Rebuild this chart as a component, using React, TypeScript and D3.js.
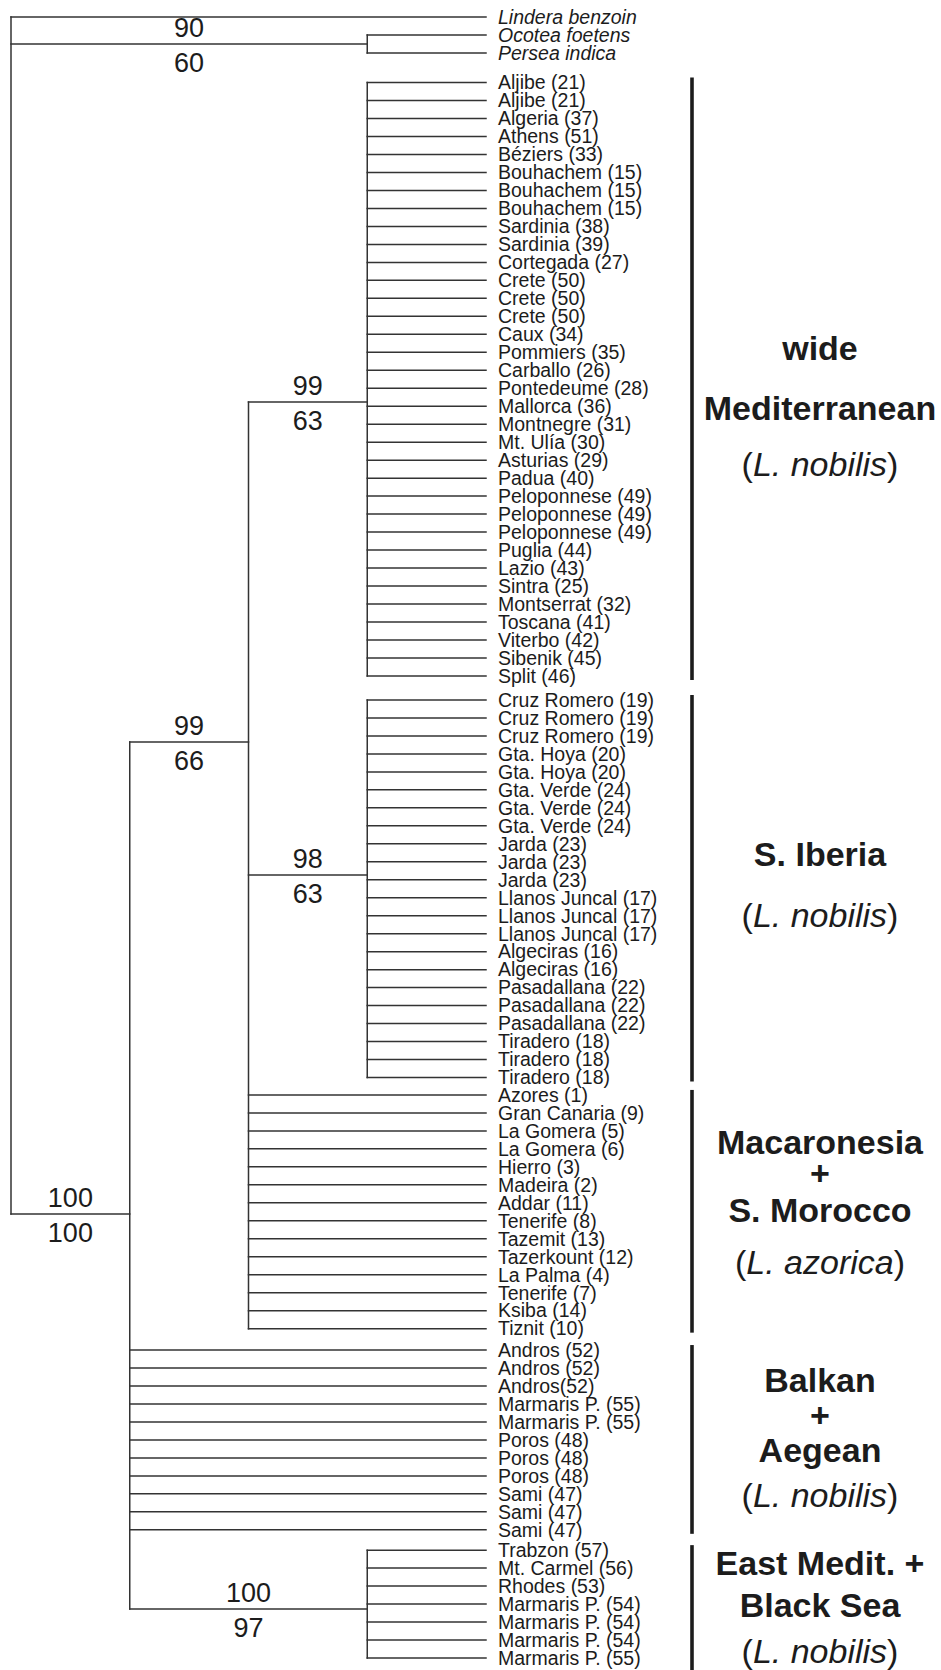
import * as d3 from "d3";

// leaf names, grouped as in the figure (top to bottom)
const outgroup = ["Lindera benzoin", "Ocotea foetens", "Persea indica"];
const wideMed = [
  "Aljibe (21)", "Aljibe (21)", "Algeria (37)", "Athens (51)", "Béziers (33)",
  "Bouhachem (15)", "Bouhachem (15)", "Bouhachem (15)", "Sardinia (38)", "Sardinia (39)",
  "Cortegada (27)", "Crete (50)", "Crete (50)", "Crete (50)", "Caux (34)", "Pommiers (35)",
  "Carballo (26)", "Pontedeume (28)", "Mallorca (36)", "Montnegre (31)", "Mt. Ulía (30)",
  "Asturias (29)", "Padua (40)", "Peloponnese (49)", "Peloponnese (49)", "Peloponnese (49)",
  "Puglia (44)", "Lazio (43)", "Sintra (25)", "Montserrat (32)", "Toscana (41)",
  "Viterbo (42)", "Sibenik (45)", "Split (46)",
];
const sIberia = [
  "Cruz Romero (19)", "Cruz Romero (19)", "Cruz Romero (19)", "Gta. Hoya (20)", "Gta. Hoya (20)",
  "Gta. Verde (24)", "Gta. Verde (24)", "Gta. Verde (24)", "Jarda (23)", "Jarda (23)", "Jarda (23)",
  "Llanos Juncal (17)", "Llanos Juncal (17)", "Llanos Juncal (17)", "Algeciras (16)", "Algeciras (16)",
  "Pasadallana (22)", "Pasadallana (22)", "Pasadallana (22)", "Tiradero (18)", "Tiradero (18)", "Tiradero (18)",
];
const macaronesia = [
  "Azores (1)", "Gran Canaria (9)", "La Gomera (5)", "La Gomera (6)", "Hierro (3)", "Madeira (2)",
  "Addar (11)", "Tenerife (8)", "Tazemit (13)", "Tazerkount (12)", "La Palma (4)", "Tenerife (7)",
  "Ksiba (14)", "Tiznit (10)",
];
const balkan = [
  "Andros (52)", "Andros (52)", "Andros(52)", "Marmaris P. (55)", "Marmaris P. (55)",
  "Poros (48)", "Poros (48)", "Poros (48)", "Sami (47)", "Sami (47)", "Sami (47)",
];
const eastMed = [
  "Trabzon (57)", "Mt. Carmel (56)", "Rhodes (53)", "Marmaris P. (54)", "Marmaris P. (54)",
  "Marmaris P. (54)", "Marmaris P. (55)",
];

// support values (top / bottom of branch) and node placement in row units
const cladeIds = ["ocoPer", "ingroup", "cladeA", "wideMed", "sIberia", "eastMed"];
const cladeRow = [1.5, 66.58, 40.33, 21.41, 47.72, 88.55];
const supportTop = [90, 100, 99, 99, 98, 100];
const supportBottom = [60, 100, 66, 63, 63, 97];

// group labels on the right
const groupTitles = [["wide", "Mediterranean"], ["S. Iberia"], ["Macaronesia", "+", "S. Morocco"], ["Balkan", "+", "Aegean"], ["East Medit. +", "Black Sea"]];
const groupSpecies = ["L. nobilis", "L. nobilis", "L. azorica", "L. nobilis", "L. nobilis"];

const W = 941;
const H = 1670;
const FONT = "'Liberation Sans', Arial, Helvetica, sans-serif";
const INK = "#1c1c1c";

type Node = { id: string; depth: number; row: number; label?: string; italic?: boolean; children?: Node[] };

function buildTree(): { root: Node; groupRows: [number, number][] } {
  const lists = [outgroup, wideMed, sIberia, macaronesia, balkan, eastMed];
  const extraGap = [0, 0.65, 0.34, -0.03, 0.19, 0.13]; // small vertical breaks between groups
  let r = 0;
  const rows: number[][] = lists.map((list, gi) => {
    r += extraGap[gi];
    return list.map(() => r++);
  });
  const leaves = (gi: number, italic = false): Node[] =>
    lists[gi].map((label, i) => ({ id: `${gi}-${i}`, depth: 4, row: rows[gi][i], label, italic }));
  const clade = (id: string, depth: number, children: Node[]): Node => ({
    id, depth, row: cladeRow[cladeIds.indexOf(id)], children,
  });

  const out = leaves(0, true);
  const root: Node = {
    id: "root", depth: 0, row: 0,
    children: [
      out[0],
      clade("ocoPer", 3, [out[1], out[2]]),
      clade("ingroup", 1, [
        clade("cladeA", 2, [
          clade("wideMed", 3, leaves(1)),
          clade("sIberia", 3, leaves(2)),
          ...leaves(3),
        ]),
        ...leaves(4),
        clade("eastMed", 3, leaves(5)),
      ]),
    ],
  };
  const groupRows = rows.slice(1).map((rs) => [rs[0], rs[rs.length - 1]] as [number, number]);
  return { root, groupRows };
}

export default function App() {
  const { root, groupRows } = buildTree();
  const lastRow = groupRows[groupRows.length - 1][1];

  const x = d3.scaleLinear().domain([0, 4]).range([11, 486]);
  const y = d3.scaleLinear().domain([0, lastRow]).range([17, 1658]);

  const branches: JSX.Element[] = [];
  const labels: JSX.Element[] = [];
  const supports: JSX.Element[] = [];

  const walk = (n: Node, parent?: Node) => {
    const yn = y(n.row);
    if (parent) {
      branches.push(<line key={`h-${n.id}`} x1={x(parent.depth)} x2={x(n.depth)} y1={yn} y2={yn} />);
    }
    if (n.children) {
      const rs = n.children.map((c) => c.row);
      branches.push(
        <line key={`v-${n.id}`} x1={x(n.depth)} x2={x(n.depth)} y1={y(d3.min(rs)!)} y2={y(d3.max(rs)!)} />
      );
      const ci = cladeIds.indexOf(n.id);
      if (ci >= 0 && parent) {
        const cx = (x(parent.depth) + x(n.depth)) / 2;
        supports.push(
          <g key={`s-${n.id}`}>
            <text x={cx} y={yn - 7}>{supportTop[ci]}</text>
            <text x={cx} y={yn + 28}>{supportBottom[ci]}</text>
          </g>
        );
      }
      n.children.forEach((c) => walk(c, n));
    } else {
      labels.push(
        <text key={`t-${n.id}`} x={x(4) + 12} y={yn} dy="0.35em" fontStyle={n.italic ? "italic" : "normal"}>
          {n.label}
        </text>
      );
    }
  };
  walk(root);

  // label line offsets (px from group middle) for each group's text block
  const lineOffsets = [
    [-19, 41, 97],
    [-23, 38],
    [-58, -27, 10, 62],
    [-48, -13, 22, 67],
    [-29, 13, 59],
  ];
  const labelX = 820;

  return (
    <svg
      width={W}
      height={H}
      viewBox={`0 0 ${W} ${H}`}
      style={{ position: "absolute", left: 0, top: 0, background: "#fff" }}
      fontFamily={FONT}
    >
      <g stroke="#333" strokeWidth={1.5} strokeLinecap="square">
        {branches}
      </g>
      <g fontSize={19.5} fill={INK}>
        {labels}
      </g>
      <g fontSize={27} fill={INK} textAnchor="middle">
        {supports}
      </g>
      {groupRows.map(([r0, r1], gi) => {
        const top = y(r0) - 5;
        const bottom = gi === groupRows.length - 1 ? H : y(r1) + 4;
        const mid = y((r0 + r1) / 2);
        const offs = lineOffsets[gi];
        const titles = groupTitles[gi];
        return (
          <g key={`grp-${gi}`}>
            <line x1={692} x2={692} y1={top} y2={bottom} stroke={INK} strokeWidth={3.6} />
            <g textAnchor="middle" fontSize={34} fill={INK}>
              {titles.map((t, li) => (
                <text key={li} x={labelX} y={mid + offs[li]} fontWeight="bold">{t}</text>
              ))}
              <text x={labelX} y={mid + offs[titles.length]}>
                (<tspan fontStyle="italic">{groupSpecies[gi]}</tspan>)
              </text>
            </g>
          </g>
        );
      })}
    </svg>
  );
}
